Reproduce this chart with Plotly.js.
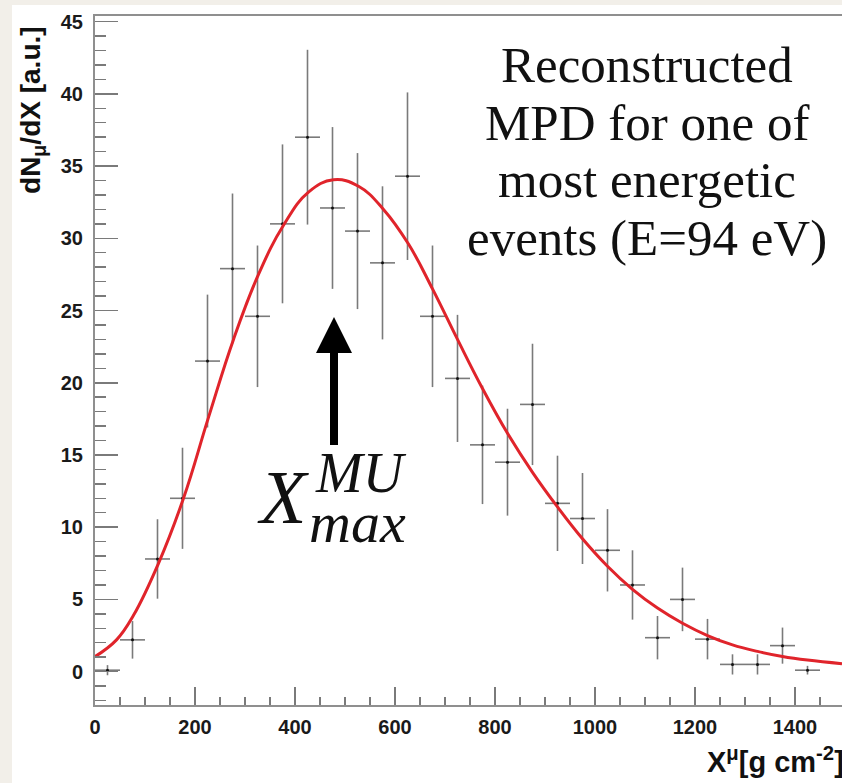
<!DOCTYPE html>
<html>
<head>
<meta charset="utf-8">
<script src="https://cdn.plot.ly/plotly-3.0.1.min.js"></script>
<style>
  html, body { margin: 0; padding: 0; background: #f2efe9; overflow: hidden; width: 842px; height: 783px; }
  #whitebox { position: absolute; left: 12px; top: 5px; width: 830px; height: 778px; background: #ffffff; }
  #chart { position: absolute; left: 0; top: 0; width: 860px; height: 783px; }
</style>
</head>
<body>
<div id="whitebox"></div>
<div id="chart"></div>
<script>
// Histogram bins (bin centres, g cm^-2) and contents
const binX = [25, 75, 125, 175, 225, 275, 325, 375, 425, 475, 525, 575, 625, 675, 725,
              775, 825, 875, 925, 975, 1025, 1075, 1125, 1175, 1225, 1275, 1325, 1375, 1425];
const binY = [0.1, 2.2, 7.8, 12.0, 21.5, 27.9, 24.6, 31.0, 37.0, 32.1, 30.5, 28.3, 34.3, 24.6, 20.3,
              15.7, 14.5, 18.5, 11.65, 10.6, 8.4, 6.0, 2.35, 5.0, 2.25, 0.5, 0.5, 1.8, 0.1];
const binErr = [0.35, 1.3, 2.75, 3.5, 4.6, 5.2, 4.9, 5.5, 6.05, 5.6, 5.4, 5.3, 5.8, 4.9, 4.4,
                4.1, 3.7, 4.2, 3.3, 3.15, 2.85, 2.4, 1.5, 2.2, 1.4, 0.7, 0.7, 1.25, 0.3];
const binHalfWidth = [25, 25, 25, 25, 25, 25, 25, 25, 25, 25, 25, 25, 25, 25, 25,
                      25, 25, 25, 25, 25, 25, 25, 25, 25, 25, 25, 25, 25, 25];

// Fitted curve
const fitX = [0, 43, 77, 127, 177, 227, 277, 327, 377, 427, 477, 527, 577, 627, 675, 725, 775,
              825, 875, 925, 975, 1025, 1075, 1125, 1175, 1225, 1275, 1325, 1375, 1425, 1494];
const fitY = [1.04, 2.2, 3.9, 7.5, 12.0, 17.6, 23.0, 27.5, 30.9, 33.2, 34.05, 33.6, 32.0, 29.6,
              26.5, 23.0, 19.6, 16.5, 13.8, 11.4, 9.2, 7.3, 5.7, 4.4, 3.35, 2.5, 1.85, 1.4, 1.05, 0.8, 0.55];

// Axis ticks
const xTickVals = [0, 200, 400, 600, 800, 1000, 1200, 1400];
const yTickVals = [0, 5, 10, 15, 20, 25, 30, 35, 40, 45];

// Text
const noteLines = ["Reconstructed", "MPD for one of", "most energetic", "events (E=94 eV)"];
const yTitle = "dN<sub>μ</sub>/dX [a.u.]";
const xTitle = "X<sup>μ</sup>[g cm<sup>-2</sup>]";

const gray = "#7a7a7a";

const traces = [
  {
    type: "scatter", mode: "markers",
    x: binX, y: binY,
    marker: { color: "#111", size: 3 },
    error_y: { type: "data", array: binErr, visible: true, color: gray, thickness: 1.6, width: 0 },
    error_x: { type: "data", array: binHalfWidth, visible: true, color: gray, thickness: 1.6, width: 0 },
    hoverinfo: "skip"
  },
  {
    type: "scatter", mode: "lines",
    x: fitX, y: fitY,
    line: { color: "#e0242b", width: 3, shape: "spline", smoothing: 1.2 },
    hoverinfo: "skip"
  }
];

const noteY = [0.9289, 0.8447, 0.7620, 0.6778];
const annotations = noteLines.map((t, i) => ({
  text: t, xref: "paper", yref: "paper", x: 0.736, y: noteY[i],
  xanchor: "center", yanchor: "middle", showarrow: false,
  font: { family: "Liberation Serif, Times New Roman, serif", size: 51, color: "#111" }
}));

annotations.push(
  { // arrow pointing at the maximum
    text: " ", xref: "x", yref: "y", axref: "x", ayref: "y",
    x: 478, y: 24.56, ax: 478, ay: 15.0,
    showarrow: true, arrowhead: 2, arrowsize: 0.9, arrowwidth: 8, arrowcolor: "#000", standoff: 0
  },
  {
    text: "X", xref: "paper", yref: "paper", x: 0.2507, y: 0.3019,
    xanchor: "center", yanchor: "middle", showarrow: false,
    font: { family: "Liberation Serif, serif", size: 76, style: "italic", color: "#111" }
  },
  {
    text: "MU", xref: "paper", yref: "paper", x: 0.2907, y: 0.3373,
    xanchor: "left", yanchor: "middle", showarrow: false,
    font: { family: "Liberation Serif, serif", size: 56, style: "italic", color: "#111" }
  },
  {
    text: "max", xref: "paper", yref: "paper", x: 0.282, y: 0.2646,
    xanchor: "left", yanchor: "middle", showarrow: false,
    font: { family: "Liberation Serif, serif", size: 58, style: "italic", color: "#111" }
  },
  {
    text: yTitle, xref: "paper", yref: "paper", x: -0.0827, y: 0.8636,
    xanchor: "center", yanchor: "middle", textangle: -90, showarrow: false,
    font: { family: "Liberation Sans, Arial, sans-serif", size: 28, weight: "bold", color: "#111" }
  },
  {
    text: xTitle, xref: "paper", yref: "paper", x: 1.0013, y: -0.0798,
    xanchor: "right", yanchor: "middle", showarrow: false,
    font: { family: "Liberation Sans, Arial, sans-serif", size: 29, weight: "bold", color: "#111" }
  }
);

const layout = {
  width: 860, height: 783,
  margin: { l: 95, r: 15, t: 16, b: 78 },
  paper_bgcolor: "rgba(0,0,0,0)",
  plot_bgcolor: "#ffffff",
  showlegend: false,
  xaxis: {
    range: [0, 1500], tickvals: xTickVals, ticktext: xTickVals.map(String),
    ticks: "inside", ticklen: 18, tickwidth: 1.6, tickcolor: gray,
    minor: { dtick: 50, tick0: 0, ticks: "inside", ticklen: 8, tickwidth: 1.4, tickcolor: gray, showgrid: false },
    showline: true, linecolor: "#8f8f8f", linewidth: 2, mirror: true,
    showgrid: false, zeroline: false, ticklabelstandoff: 3,
    tickfont: { family: "Liberation Sans, Arial, sans-serif", size: 20, weight: "bold", color: "#1a1a1a" }
  },
  yaxis: {
    range: [-2.31, 45.39], tickvals: yTickVals, ticktext: yTickVals.map(String),
    ticks: "inside", ticklen: 23, tickwidth: 1.6, tickcolor: gray,
    minor: { dtick: 1, tick0: 0, ticks: "inside", ticklen: 11, tickwidth: 1.4, tickcolor: gray, showgrid: false },
    showline: true, linecolor: "#8f8f8f", linewidth: 2, mirror: true,
    showgrid: false, zeroline: false, ticklabelstandoff: 6,
    tickfont: { family: "Liberation Sans, Arial, sans-serif", size: 20, weight: "bold", color: "#1a1a1a" }
  },
  annotations: annotations
};

Plotly.newPlot("chart", traces, layout, { staticPlot: true, displayModeBar: false });
</script>
</body>
</html>
